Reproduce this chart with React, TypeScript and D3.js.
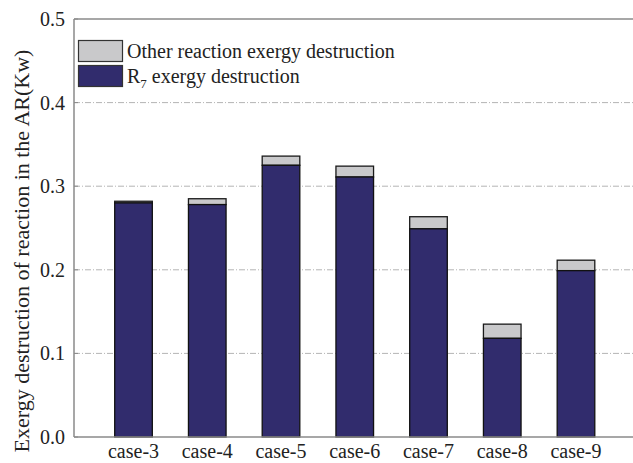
import React from "react";
import * as d3 from "d3";

const cases = ["case-3", "case-4", "case-5", "case-6", "case-7", "case-8", "case-9"];
const r7Values = [0.280, 0.278, 0.325, 0.311, 0.249, 0.118, 0.199];
const otherValues = [0.002, 0.007, 0.011, 0.013, 0.0145, 0.017, 0.0125];
const yTicks = [0.0, 0.1, 0.2, 0.3, 0.4, 0.5];
const legendLabels = ["Other reaction exergy destruction", "R7 exergy destruction"];

const W = 633;
const H = 463;
const left = 74;
const top = 19;
const bottom = 437;

export default function App() {
  const x = d3.scaleBand<string>().domain(cases).range([left, 635.5]).paddingInner(0.49).paddingOuter(0.552);
  const y = d3.scaleLinear().domain([0, 0.5]).range([bottom, top]);
  const font = "'Times New Roman', 'Liberation Serif', 'DejaVu Serif', serif";
  const navy = "#312c6d";
  const grey = "#c9c9cb";
  return (
    <svg width={W} height={H} style={{ position: "absolute", left: 0, top: 0, fontFamily: font }}>
      <rect x={0} y={0} width={W} height={H} fill="#fff" />
      {yTicks.slice(1, 5).map((t) => (
        <line key={t} x1={left} x2={W} y1={y(t)} y2={y(t)} stroke="#b4b4b4" strokeWidth={1} strokeDasharray="6 2 1 2" />
      ))}
      <line x1={left} x2={W} y1={y(0.5)} y2={y(0.5)} stroke="#8a8a8a" strokeWidth={1.5} />
      {cases.map((c, i) => {
        const bx = x(c)!;
        const bw = x.bandwidth();
        const total = r7Values[i] + otherValues[i];
        return (
          <g key={c}>
            <rect x={bx} y={y(total)} width={bw} height={y(r7Values[i]) - y(total)} fill={grey} stroke="#1a1a1a" strokeWidth={1.3} />
            <rect x={bx} y={y(r7Values[i])} width={bw} height={y(0) - y(r7Values[i])} fill={navy} stroke="#111" strokeWidth={1.3} />
          </g>
        );
      })}
      <line x1={left} x2={left} y1={top} y2={bottom} stroke="#8a8a8a" strokeWidth={1.5} />
      <line x1={left} x2={W} y1={bottom} y2={bottom} stroke="#8a8a8a" strokeWidth={1.5} />
      {yTicks.map((t) => (
        <g key={t}>
          <line x1={left} x2={left + 4} y1={y(t)} y2={y(t)} stroke="#8a8a8a" strokeWidth={1} />
          <text x={left - 9} y={y(t)} dy="0.35em" textAnchor="end" fontSize={20} fill="#222" style={{ fontFamily: font }}>
            {t.toFixed(1)}
          </text>
        </g>
      ))}
      {cases.map((c) => (
        <text key={c} x={x(c)! + x.bandwidth() / 2} y={bottom + 21} textAnchor="middle" fontSize={20} fill="#222" style={{ fontFamily: font }}>
          {c}
        </text>
      ))}
      <text transform={`translate(29,251) rotate(-90)`} textAnchor="middle" fontSize={22} fill="#222" style={{ fontFamily: font }}>
        Exergy destruction of reaction in the AR(Kw)
      </text>
      <rect x={78.5} y={40.5} width={44} height={21} fill={grey} stroke="#333" strokeWidth={1.2} />
      <rect x={78.5} y={65.5} width={44} height={21} fill={navy} stroke="#333" strokeWidth={1.2} />
      <text x={127} y={58} fontSize={20} fill="#222" style={{ fontFamily: font }}>{legendLabels[0]}</text>
      <text x={127} y={83} fontSize={20} fill="#222" style={{ fontFamily: font }}>
        R<tspan fontSize={13} dy="5">7</tspan><tspan dy="-5"> exergy destruction</tspan>
      </text>
    </svg>
  );
}
